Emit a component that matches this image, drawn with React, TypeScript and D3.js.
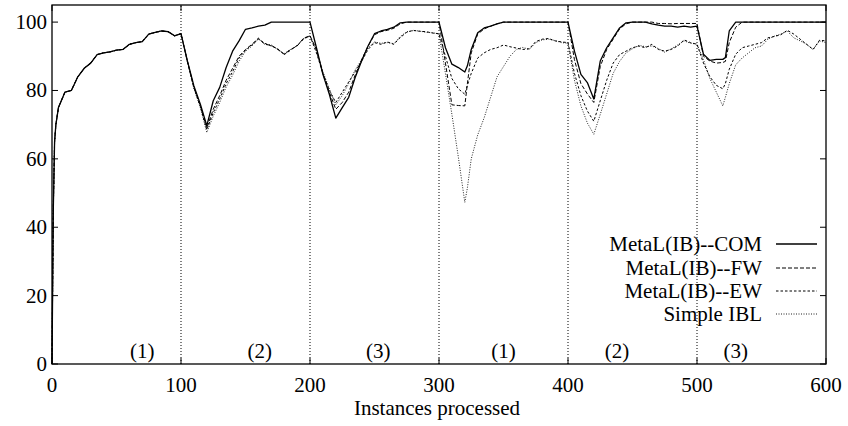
import * as d3 from "d3";

// x grid (instances processed)
const instances = [
  0, 1, 2, 3, 5, 10, 15, 20, 25, 30, 35, 40, 45, 50, 55, 60, 65, 70, 75, 80, 85, 90, 95, 100,
  105, 110, 115, 120, 125, 130, 135, 140, 145, 150, 155, 160, 165, 170, 175, 180, 185, 190, 195, 200,
  205, 210, 215, 220, 225, 230, 235, 240, 245, 250, 255, 260, 265, 270, 275, 280, 285, 290, 295, 300,
  305, 310, 315, 320, 322, 325, 330, 335, 340, 345, 350, 355, 360, 365, 370, 375, 380, 385, 390, 395, 400,
  405, 410, 415, 420, 425, 430, 435, 440, 445, 450, 455, 460, 465, 470, 475, 480, 485, 490, 495, 500,
  505, 510, 515, 520, 522, 525, 530, 535, 540, 545, 550, 555, 560, 565, 570, 575, 580, 585, 590, 595, 600,
];

const firstConcept = [
  0, 45, 65, 70, 75, 79.5, 80, 84, 86.5, 88, 90.5, 91, 91.3, 91.8, 92, 93.5, 94, 94.3, 96.5, 97, 97.4, 97.2, 96, 96.6,
];

const comValues = [
  ...firstConcept,
  88.6, 81.3, 76, 69.7, 77, 80.9, 86.7, 91.5, 94.5, 97.9, 98.3, 98.8, 99.1, 100, 100, 100, 100, 100, 100, 100,
  92.5, 84.7, 78.9, 71.9, 75, 78, 83.8, 88.6, 93, 96.6, 97.4, 97.9, 98.5, 99.8, 100, 100, 100, 100, 100, 100,
  92.5, 87.7, 86.7, 85.4, 87.2, 92, 96.9, 98.3, 98.8, 99.5, 100, 100, 100, 100, 100, 100, 100, 100, 100, 100, 100,
  91.5, 84.7, 82.3, 77.5, 88.6, 92.5, 95.4, 98.3, 99.8, 100, 100, 100, 99.5, 99.1, 98.8, 98.8, 98.5, 98.8, 98.5, 98.8,
  90.6, 88.8, 89.1, 89.1, 89.6, 97.4, 100, 100, 100, 100, 100, 100, 100, 100, 100, 100, 100, 100, 100, 100, 100,
];

const fwValues = [
  ...firstConcept,
  88.4, 81, 75.5, 69, 74.5, 78.5, 83, 86.5, 90, 92, 93.5, 95.3, 93.5, 93.2, 92, 90.6, 92, 93, 95.3, 96,
  92, 85, 79.5, 74.5, 76.5, 79.5, 84.5, 89, 93, 96.3, 97.2, 97.6, 98.2, 99.5, 100, 100, 100, 100, 100, 100,
  88, 75.8, 75.6, 75.5, 82, 91, 96.5, 98, 98.8, 99.5, 100, 100, 100, 100, 100, 100, 100, 100, 100, 100, 100,
  89, 82, 79, 76.5, 87, 92, 95, 98, 99.5, 100, 100, 100, 100, 99.6, 99.6, 99.5, 99.6, 99.6, 99.6, 99.6,
  90, 88.6, 88, 88.2, 88.5, 94, 98.5, 100, 100, 100, 100, 100, 100, 100, 100, 100, 100, 100, 100, 100, 100,
];

const ewValues = [
  ...firstConcept,
  88.5, 80.8, 75.3, 68.5, 73.5, 77.5, 82, 85.5, 89.5, 91.8, 93.3, 95, 93.8, 93, 92.2, 90.5, 91.8, 93.2, 95, 96,
  91, 85, 80, 76.5, 79.5, 82.5, 85.5, 88.5, 92, 94, 93.5, 94.2, 93.5, 95.5, 97, 97.6, 97.3, 97.2, 96.8, 96.6,
  90, 83.5, 80.5, 78.9, 81.5, 85, 89.5, 91, 92, 92.5, 93.3, 92.8, 92.4, 92, 92.2, 94.3, 95, 95.2, 94.5, 94.2, 94,
  85, 78.5, 74, 71, 77, 83, 88, 90.5, 91.5, 92.5, 93, 92.5, 93.5, 92, 91.5, 92, 93, 94.8, 94, 93.5,
  88, 84, 81.5, 80.5, 82, 86.2, 90.6, 92.5, 93, 93.5, 94, 95.4, 95.8, 96.3, 97.6, 96.5, 95, 93.5, 92, 94.7, 94.5,
];

const iblValues = [
  ...firstConcept,
  88.3, 80.5, 75, 67.7, 72.5, 76.5, 81, 84.5, 88.5, 91.5, 93, 95.2, 93.5, 93.3, 92, 90.8, 92, 93, 95.2, 95.9,
  91.5, 85.5, 80.5, 75.8, 78.5, 82, 86, 89, 92.5, 94.2, 93.8, 94, 93.7, 95.8, 97.2, 97.5, 97.4, 97, 96.9, 96.5,
  85, 73, 60.5, 47.3, 51.5, 60, 67, 72, 78, 84, 87, 90, 92, 92.6, 92, 94, 94.8, 95, 94.6, 94, 93.8,
  83, 75.5, 70.5, 67.2, 73, 79, 85, 88.5, 91, 92.2, 93.2, 92.8, 93, 92.3, 91.2, 92.2, 93.3, 94.5, 93.8, 93.6,
  89, 83.5, 79.5, 75.5, 78, 82, 87.5, 89.5, 91, 92.5, 93, 95, 95.9, 96.5, 97.4, 95.4, 94.5, 93.5, 92, 94.5, 94,
];

const seriesNames = ["MetaL(IB)--COM", "MetaL(IB)--FW", "MetaL(IB)--EW", "Simple IBL"];
const xTicks = [0, 100, 200, 300, 400, 500, 600];
const yTicks = [0, 20, 40, 60, 80, 100];
const conceptChanges = [100, 200, 300, 400, 500];
const conceptLabels = ["(1)", "(2)", "(3)", "(1)", "(2)", "(3)"];
const conceptLabelAt = [70, 161, 253, 350, 438, 530];

const W = 848;
const H = 426;
const margin = { left: 52, right: 22, top: 5, bottom: 62 };
const font = '"Liberation Serif", "Times New Roman", Times, Tinos, "DejaVu Serif", "Noto Serif", serif';
const fs = 21;

const styles = [
  { width: 1.3, dash: null, color: "#000" },
  { width: 1, dash: "4,2", color: "#000" },
  { width: 1, dash: "2.5,2", color: "#000" },
  { width: 1, dash: "1,1.5", color: "#222" },
];

export default function App() {
  const x = d3.scaleLinear().domain([0, 600]).range([margin.left, W - margin.right]);
  const y = d3.scaleLinear().domain([0, 105]).range([H - margin.bottom, margin.top]);

  const allSeries = [comValues, fwValues, ewValues, iblValues];
  const line = d3
    .line<number>()
    .x((_, i) => x(instances[i]))
    .y((d) => y(d));

  const x0 = x(0);
  const x1 = x(600);
  const yb = y(0);
  const yt = y(105);
  const tick = 6;

  const legendTextX = 762;
  const legendY = [244, 268, 291, 314];
  const textStyle = { fontFamily: font, fontSize: fs };

  return (
    <svg
      width={W}
      height={H}
      style={{ position: "absolute", left: 0, top: 0, background: "#fff", fontFamily: font }}
    >
      <rect x={0} y={0} width={W} height={H} fill="#fff" />

      {/* concept change markers */}
      {conceptChanges.map((c) => (
        <line
          key={c}
          x1={x(c)}
          x2={x(c)}
          y1={yb}
          y2={yt}
          stroke="#000"
          strokeWidth={1}
          strokeDasharray="1,2"
        />
      ))}

      {/* series, drawn so COM ends on top */}
      {[3, 2, 1, 0].map((k) => (
        <path
          key={k}
          d={line(allSeries[k]) || ""}
          fill="none"
          stroke={styles[k].color}
          strokeWidth={styles[k].width}
          strokeDasharray={styles[k].dash || undefined}
          strokeLinejoin="round"
        />
      ))}

      {/* frame */}
      <rect x={x0} y={yt} width={x1 - x0} height={yb - yt} fill="none" stroke="#000" strokeWidth={1.3} />

      {/* y ticks, mirrored */}
      {yTicks.map((t) => (
        <g key={t}>
          <line x1={x0} x2={x0 + tick} y1={y(t)} y2={y(t)} stroke="#000" />
          <line x1={x1 - tick} x2={x1} y1={y(t)} y2={y(t)} stroke="#000" />
          <text x={x0 - 5} y={y(t)} textAnchor="end" dominantBaseline="central" style={textStyle}>
            {t}
          </text>
        </g>
      ))}

      {/* x ticks, mirrored */}
      {xTicks.map((t) => (
        <g key={t}>
          <line x1={x(t)} x2={x(t)} y1={yb} y2={yb - tick} stroke="#000" />
          <line x1={x(t)} x2={x(t)} y1={yt} y2={yt + tick} stroke="#000" />
          <text x={x(t)} y={yb + 28} textAnchor="middle" style={textStyle}>
            {t}
          </text>
        </g>
      ))}

      <text x={(x0 + x1) / 2 - 2} y={yb + 51} textAnchor="middle" style={textStyle}>
        Instances processed
      </text>

      {conceptLabels.map((l, i) => (
        <text key={i} x={x(conceptLabelAt[i])} y={yb - 6} textAnchor="middle" style={textStyle}>
          {l}
        </text>
      ))}

      {/* legend */}
      {seriesNames.map((n, k) => (
        <g key={n}>
          <text x={legendTextX} y={legendY[k]} textAnchor="end" dominantBaseline="central" style={textStyle}>
            {n}
          </text>
          <line
            x1={776}
            x2={817}
            y1={legendY[k]}
            y2={legendY[k]}
            stroke={styles[k].color}
            strokeWidth={styles[k].width}
            strokeDasharray={styles[k].dash || undefined}
          />
        </g>
      ))}
    </svg>
  );
}
